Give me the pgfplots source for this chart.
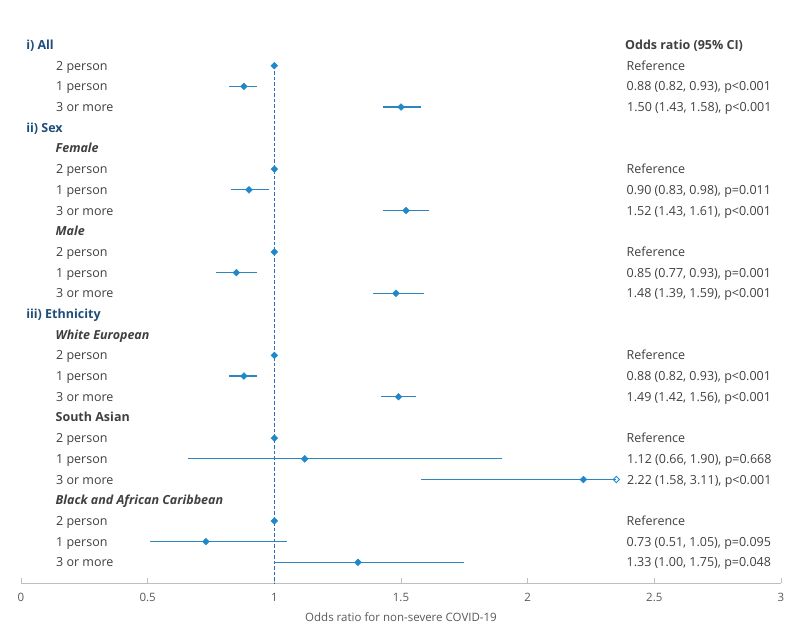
\documentclass[border=0pt]{standalone}
\usepackage{fontspec}
\setmainfont{Open Sans}
\usepackage{pgfplots}
\pgfplotsset{compat=1.18}
\definecolor{mk}{RGB}{31,136,201}
\definecolor{ci}{RGB}{46,134,193}
\definecolor{refl}{RGB}{40,112,182}
\definecolor{hd}{RGB}{31,78,121}
\definecolor{tx}{RGB}{64,64,64}
\definecolor{axg}{RGB}{191,191,191}
\definecolor{tkg}{RGB}{89,89,89}
\newcommand\lab{\fontsize{12.5}{15}\selectfont}

% row positions are negative row numbers (row 1 = "i) All")
\pgfplotstableread{
y    or   em   ep
-3   0.88 0.06 0.05
-4   1.50 0.07 0.08
-8   0.90 0.07 0.08
-9   1.52 0.09 0.09
-12  0.85 0.08 0.08
-13  1.48 0.09 0.11
-17  0.88 0.06 0.05
-18  1.49 0.07 0.07
-21  1.12 0.46 0.78
-22  2.22 0.64 0.13
-25  0.73 0.22 0.32
-26  1.33 0.33 0.42
}\cis

\begin{document}
\begin{tikzpicture}
\fill[white] (0,0) rectangle (800pt,635pt);
\begin{axis}[at={(21pt,52pt)}, anchor=south west,
  width=760pt, height=558.7pt, scale only axis,
  xmin=0, xmax=3, ymin=-27, ymax=0,
  axis x line=bottom, axis y line=none,
  axis line style={axg, -, line width=0.9pt},
  xtick={0,0.5,1,1.5,2,2.5,3},
  xticklabels={0,0.5,1,1.5,2,2.5,3},
  tick align=inside, major tick length=5pt,
  x tick style={axg, line width=0.9pt},
  ytick=\empty,
  /pgf/number format/assume math mode=true,
  xticklabel style={font=\fontsize{11.5}{13}\selectfont, text=tkg, yshift=-7pt},
  xlabel={Odds ratio for non-severe COVID-19},
  xlabel style={font=\fontsize{11.5}{13}\selectfont, text=tkg, yshift=-4pt},
  clip=false]
  % reference line
  \addplot[refl, line width=1.6pt, dash pattern=on 3.5pt off 2pt] coordinates {(1,-2) (1,-27)};
  % confidence intervals and estimates
  \addplot[only marks, mark=square*, mark size=2.4pt, mark options={rotate=45}, mk,
    error bars/.cd, x dir=both, x explicit, error mark=none,
    error bar style={ci, line width=1.3pt}]
    table[x=or, y=y, x error minus=em, x error plus=ep] {\cis};
  % reference categories
  \addplot[only marks, mark=square*, mark size=2.4pt, mark options={rotate=45}, mk]
    coordinates {(1,-2) (1,-7) (1,-11) (1,-16) (1,-20) (1,-24)};
  % truncated upper limit (3.11)
  \addplot[only marks, mark=square, mark size=2.2pt, mk, mark options={rotate=45, fill=white, line width=0.9pt}]
    coordinates {(2.35,-22)};

  % left labels
  \tikzset{hd/.style={anchor=base west, yshift=-4.5pt, font=\lab\bfseries, text=hd, inner sep=0pt},
           sub/.style={anchor=base west, yshift=-4.5pt, font=\lab\bfseries\itshape, text=tx, inner sep=0pt},
           it/.style={anchor=base west, yshift=-4.5pt, font=\lab, text=tx, inner sep=0pt},
           rt/.style={anchor=base west, yshift=-4.5pt, font=\lab, text=tx, inner sep=0pt}}
  \node[hd] at (axis cs:0.020,-1) {i) All};
  \node[it] at (axis cs:0.138,-2) {2 person};
  \node[it] at (axis cs:0.138,-3) {1 person};
  \node[it] at (axis cs:0.138,-4) {3 or more};
  \node[hd] at (axis cs:0.020,-5) {ii) Sex};
  \node[sub] at (axis cs:0.136,-6) {Female};
  \node[it] at (axis cs:0.138,-7) {2 person};
  \node[it] at (axis cs:0.138,-8) {1 person};
  \node[it] at (axis cs:0.138,-9) {3 or more};
  \node[sub] at (axis cs:0.136,-10) {Male};
  \node[it] at (axis cs:0.138,-11) {2 person};
  \node[it] at (axis cs:0.138,-12) {1 person};
  \node[it] at (axis cs:0.138,-13) {3 or more};
  \node[hd] at (axis cs:0.020,-14) {iii) Ethnicity};
  \node[sub] at (axis cs:0.136,-15) {White European};
  \node[it] at (axis cs:0.138,-16) {2 person};
  \node[it] at (axis cs:0.138,-17) {1 person};
  \node[it] at (axis cs:0.138,-18) {3 or more};
  \node[sub, font=\lab\bfseries] at (axis cs:0.136,-19) {South Asian};
  \node[it] at (axis cs:0.138,-20) {2 person};
  \node[it] at (axis cs:0.138,-21) {1 person};
  \node[it] at (axis cs:0.138,-22) {3 or more};
  \node[sub] at (axis cs:0.136,-23) {Black and African Caribbean};
  \node[it] at (axis cs:0.138,-24) {2 person};
  \node[it] at (axis cs:0.138,-25) {1 person};
  \node[it] at (axis cs:0.138,-26) {3 or more};

  % right column
  \node[rt, font=\lab\bfseries] at (axis cs:2.384,-1) {Odds ratio (95\% CI)};
  \node[rt] at (axis cs:2.390,-2) {Reference};
  \node[rt] at (axis cs:2.390,-3) {0.88 (0.82, 0.93), p<0.001};
  \node[rt] at (axis cs:2.392,-4) {1.50 (1.43, 1.58), p<0.001};
  \node[rt] at (axis cs:2.390,-7) {Reference};
  \node[rt] at (axis cs:2.390,-8) {0.90 (0.83, 0.98), p=0.011};
  \node[rt] at (axis cs:2.390,-9) {1.52 (1.43, 1.61), p<0.001};
  \node[rt] at (axis cs:2.390,-11) {Reference};
  \node[rt] at (axis cs:2.390,-12) {0.85 (0.77, 0.93), p=0.001};
  \node[rt] at (axis cs:2.390,-13) {1.48 (1.39, 1.59), p<0.001};
  \node[rt] at (axis cs:2.390,-16) {Reference};
  \node[rt] at (axis cs:2.390,-17) {0.88 (0.82, 0.93), p<0.001};
  \node[rt] at (axis cs:2.390,-18) {1.49 (1.42, 1.56), p<0.001};
  \node[rt] at (axis cs:2.390,-20) {Reference};
  \node[rt] at (axis cs:2.392,-21) {1.12 (0.66, 1.90), p=0.668};
  \node[rt] at (axis cs:2.392,-22) {2.22 (1.58, 3.11), p<0.001};
  \node[rt] at (axis cs:2.390,-24) {Reference};
  \node[rt] at (axis cs:2.390,-25) {0.73 (0.51, 1.05), p=0.095};
  \node[rt] at (axis cs:2.390,-26) {1.33 (1.00, 1.75), p=0.048};
\end{axis}
\end{tikzpicture}
\end{document}
